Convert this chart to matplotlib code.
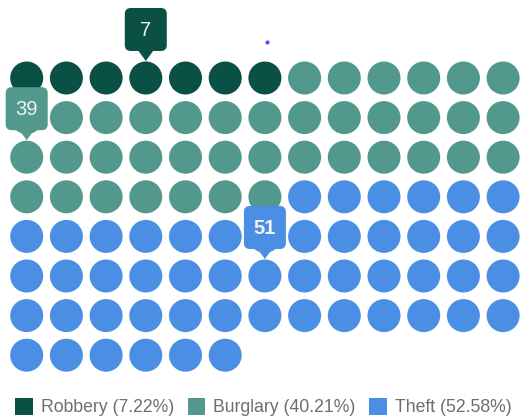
import matplotlib
matplotlib.use("Agg")
import matplotlib.pyplot as plt
from matplotlib.patches import Circle, FancyBboxPatch, Polygon, Patch

categories = ["Robbery", "Burglary", "Theft"]
values = [7, 39, 51]
colors = ["#0b5045", "#52988c", "#4a8fe3"]
label_weights = ["normal", "normal", "bold"]

ncols = 13
x0, y0 = 26.7, 78.0
dx, dy = 39.7, 39.6
r = 16.5

plt.rcParams['font.family'] = ['Liberation Sans', 'DejaVu Sans']
fig = plt.figure(figsize=(5.22, 4.19), dpi=100)
ax = fig.add_axes([0, 0, 1, 1])
ax.set_xlim(0, 522)
ax.set_ylim(419, 0)
ax.axis('off')

total = sum(values)
idx = 0
for cat, v, c, w in zip(categories, values, colors, label_weights):
    start = idx
    for k in range(v):
        row, col = divmod(idx, ncols)
        ax.add_patch(Circle((x0 + col * dx, y0 + row * dy), r, facecolor=c, edgecolor='none'))
        idx += 1
    # callout over middle element
    mid = start + v // 2
    row, col = divmod(mid, ncols)
    cx, cy = x0 + col * dx, y0 + row * dy
    tip = cy - r - 0.5
    bw, bh = 42, 43
    bottom = tip - 10
    ax.add_patch(FancyBboxPatch((cx - bw / 2 + 4, bottom - bh + 4), bw - 8, bh - 8,
                                boxstyle="round,pad=4,rounding_size=6",
                                facecolor=c, edgecolor='none', zorder=5))
    ax.add_patch(Polygon([(cx - 8, bottom - 1), (cx + 8, bottom - 1), (cx, tip)],
                         closed=True, facecolor=c, edgecolor='none', zorder=5))
    ax.text(cx, bottom - bh / 2 + 0.5, str(v), color='#eef2f2', fontsize=14.5,
            fontweight=w, ha='center', va='center', zorder=6)

# small stray dot
ax.plot([266.5], [42], marker='o', markersize=2, color='#5050ff', linestyle='none')

handles = [Patch(facecolor=c, edgecolor='none') for c in colors]
labels = [f"{cat} ({v / total * 100:.2f}%)" for cat, v in zip(categories, values)]
leg = ax.legend(handles, labels, loc='center', bbox_to_anchor=(0.5 + 2.5 / 522, 1 - 407 / 419), ncol=3,
                frameon=False, fontsize=12.7, handlelength=1.0, handleheight=1.15,
                handletextpad=0.45, columnspacing=0.78, borderaxespad=0.0)
for t in leg.get_texts():
    t.set_color('#6e6e6e')

fig.savefig("out.png", dpi=100)
